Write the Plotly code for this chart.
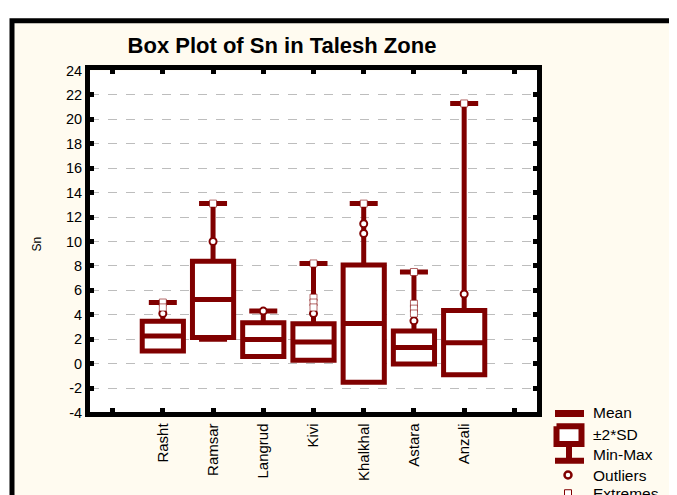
import plotly.graph_objects as go

# ---------------- data ----------------
categories = ["Rasht", "Ramsar", "Langrud", "Kivi", "Khalkhal", "Astara", "Anzali"]
means = [2.25, 5.25, 1.97, 1.77, 3.28, 1.32, 1.71]
two_sd = [1.22, 3.12, 1.38, 1.49, 4.80, 1.35, 2.63]
minimum = [1.4, 2.0, 1.0, 0.5, 0.5, 0.3, 0.4]
maximum = [5.0, 13.1, 4.3, 8.2, 13.1, 7.5, 21.3]
outliers = [[4.1], [10.0], [4.3], [4.1], [11.45, 10.65], [3.5], [5.7]]
extremes = [[5.0, 4.6], [13.1], [], [8.2, 5.4, 5.0, 4.6], [13.1], [7.5, 4.9, 4.5, 4.1], [21.3]]
y_ticks = list(range(-4, 25, 2))
legend_labels = ["Mean", "±2*SD", "Min-Max", "Outliers", "Extremes"]

DARK = "#800000"
CREAM = "#FFFBF0"
FONT = "Liberation Sans, Arial, sans-serif"

W, H = 677, 495
# mapping from target picture pixels to figure pixels (page offset / capture scale)
OX, OY, KY = 8, 8.2, 0.982

def fx(p):
    return p - OX

def fy(p):
    return (p - OY) / KY

def paper_x(p):
    return fx(p) / W

def paper_y(p):
    return 1 - fy(p) / H

pos = list(range(1, len(categories) + 1))
q1 = [m - s for m, s in zip(means, two_sd)]
q3 = [m + s for m, s in zip(means, two_sd)]
lf = [min(mn, a) for mn, a in zip(minimum, q1)]
uf = [max(mx, b) for mx, b in zip(maximum, q3)]

fig = go.Figure()

fig.add_trace(go.Box(
    x=pos, q1=q1, median=means, q3=q3, lowerfence=lf, upperfence=uf,
    width=0.82, whiskerwidth=0.68, fillcolor="white",
    line=dict(color=DARK, width=5), boxpoints=False, showlegend=False,
    xaxis="x", yaxis="y"))

ox, oy = [], []
for p, vals in zip(pos, outliers):
    for v in vals:
        ox.append(p); oy.append(v)
fig.add_trace(go.Scatter(
    x=ox, y=oy, mode="markers", showlegend=False,
    marker=dict(symbol="circle", size=7, color="white", line=dict(color=DARK, width=2))))

ex, ey = [], []
for p, vals in zip(pos, extremes):
    for v in vals:
        ex.append(p); ey.append(v)
fig.add_trace(go.Scatter(
    x=ex, y=ey, mode="markers", showlegend=False,
    marker=dict(symbol="square", size=7, color="white", line=dict(color=DARK, width=0.6))))

# ---------------- hand-drawn legend (axis x2/y2 in picture pixels) ----------------
rows = [411, 432.5, 453, 474, 492.5]
lg = dict(xaxis="x2", yaxis="y2", showlegend=False, hoverinfo="skip", cliponaxis=False)
fig.add_trace(go.Scatter(x=[555, 584], y=[411.5, 411.5], mode="lines",
                         line=dict(color=DARK, width=7), **lg))
fig.add_trace(go.Scatter(x=[569, 569], y=[443, 459.5], mode="lines",
                         line=dict(color=DARK, width=6), **lg))
fig.add_trace(go.Scatter(x=[555, 584], y=[459.5, 459.5], mode="lines",
                         line=dict(color=DARK, width=6), **lg))
fig.add_trace(go.Scatter(x=[556.5, 581.5, 581.5, 556.5, 556.5],
                         y=[424.5, 424.5, 442.5, 442.5, 424.5],
                         mode="lines", fill="toself", fillcolor="white",
                         line=dict(color=DARK, width=6), **lg))
fig.add_trace(go.Scatter(x=[568], y=[474], mode="markers",
                         marker=dict(symbol="circle", size=7, color="white",
                                     line=dict(color=DARK, width=2.5)), **lg))
fig.add_trace(go.Scatter(x=[568], y=[492.5], mode="markers",
                         marker=dict(symbol="square", size=7, color="white",
                                     line=dict(color=DARK, width=1)), **lg))

annotations = []
for lbl, yy in zip(legend_labels, rows):
    annotations.append(dict(text=lbl, x=paper_x(591), y=paper_y(yy), xref="paper", yref="paper",
                            xanchor="left", yanchor="middle", showarrow=False,
                            font=dict(family=FONT, size=15.5, color="black")))
annotations.append(dict(text="Sn", x=paper_x(37), y=paper_y(240), xref="paper", yref="paper",
                        textangle=-90, showarrow=False, xanchor="center", yanchor="middle",
                        font=dict(family=FONT, size=12, color="black")))

shapes = [
    dict(type="rect", xref="paper", yref="paper", layer="below",
         x0=paper_x(12), x1=paper_x(720), y0=paper_y(540), y1=paper_y(13),
         fillcolor=CREAM, line=dict(color="black", width=5)),
    dict(type="rect", xref="x domain", yref="y domain", layer="below",
         x0=0, x1=1, y0=0, y1=1, fillcolor="white", line=dict(width=0)),
]

# legend axis ranges expressed in picture pixels
x2_left, x2_right = 545, OX + W
y2_top, y2_bottom = 395, OY + KY * H

fig.update_layout(
    width=W, height=H, autosize=False,
    margin=dict(l=0, r=0, t=0, b=0, pad=0),
    paper_bgcolor="white", plot_bgcolor="rgba(0,0,0,0)",
    font=dict(family=FONT, color="black"),
    title=dict(text="<b>Box Plot of Sn in Talesh Zone</b>", x=paper_x(282), xanchor="center",
               y=paper_y(45), yanchor="middle", xref="container", yref="container",
               font=dict(family=FONT, size=22, color="black")),
    xaxis=dict(domain=[paper_x(90), paper_x(537)], range=[-0.45, 8.45],
               tickvals=list(range(0, 9)), ticktext=[""] + categories + [""],
               tickangle=-90, ticks="inside", ticklen=4, tickwidth=5, tickcolor="black",
               showline=True, linewidth=5, linecolor="black", mirror="allticks",
               showgrid=False, zeroline=False, anchor="y",
               tickfont=dict(family=FONT, size=15, color="black")),
    yaxis=dict(domain=[paper_y(410.5), paper_y(63.5)], range=[-4, 24],
               tickvals=y_ticks, ticktext=[str(v) for v in y_ticks],
               ticks="inside", ticklen=4, tickwidth=5, tickcolor="black",
               showline=True, linewidth=5, linecolor="black", mirror="allticks",
               showgrid=True, gridcolor="#BDBDBD", griddash="dash", gridwidth=1,
               zeroline=False, anchor="x",
               tickfont=dict(family=FONT, size=14.5, color="black")),
    xaxis2=dict(domain=[paper_x(x2_left), 1], range=[x2_left, x2_right],
                visible=False, anchor="y2"),
    yaxis2=dict(domain=[0, paper_y(y2_top)], range=[y2_bottom, y2_top],
                visible=False, anchor="x2"),
    shapes=shapes, annotations=annotations,
)

fig.write_html("out.html")
